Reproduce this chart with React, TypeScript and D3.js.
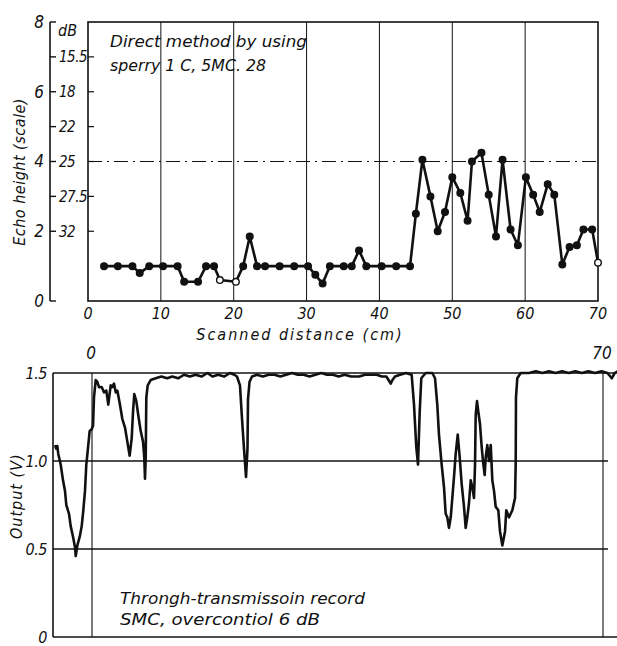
import React from 'react';
import * as d3 from 'd3';

// ---------- Top chart data (Direct method) ----------
const distanceCm = [2.2, 4.1, 6.1, 7.1, 8.4, 10.3, 12.3, 13.2, 15.1, 16.2, 17.3, 18.1, 20.3, 21.3, 22.2, 23.2, 24.3, 26.3, 28.3, 30.2, 31.2, 32.2, 33.2, 35.1, 36.2, 37.2, 38.2, 40.3, 42.3, 44.2, 45.0, 45.9, 47.0, 48.0, 49.0, 50.0, 51.1, 52.1, 52.7, 54.0, 55.0, 56.0, 56.9, 58.0, 59.0, 60.1, 61.1, 62.0, 63.1, 64.0, 65.1, 66.1, 67.1, 68.0, 69.2, 70.0];
const echoHeight = [1.0, 1.0, 1.0, 0.8, 1.0, 1.0, 1.0, 0.55, 0.55, 1.0, 1.0, 0.6, 0.55, 1.0, 1.85, 1.0, 1.0, 1.0, 1.0, 1.0, 0.75, 0.5, 1.0, 1.0, 1.0, 1.45, 1.0, 1.0, 1.0, 1.0, 2.5, 4.05, 3.0, 2.0, 2.55, 3.55, 3.1, 2.3, 4.0, 4.25, 3.05, 1.85, 4.05, 2.05, 1.6, 3.55, 3.05, 2.55, 3.35, 3.05, 1.05, 1.55, 1.6, 2.05, 2.05, 1.1];
const openMarkerAt = [18.1, 20.3, 70.0];
const echoTickValues = [0, 2, 4, 6, 8];
const dbTickPositions = [7, 6, 5, 4, 3, 2];
const dbTickLabels = ['15.5', '18', '22', '25', '27.5', '32'];
const distanceTicks = [0, 10, 20, 30, 40, 50, 60, 70];
const gridDistances = [10, 20, 30, 40, 50, 60];
const referenceLevel = 4;

// ---------- Bottom chart data (Through-transmission record) ----------
const traceCm = [-5.07, -4.89, -4.75, -4.62, -4.29, -3.97, -3.70, -3.52, -3.15, -2.92, -2.60, -2.33, -2.23, -2.01, -1.68, -1.41, -1.19, -0.96, -0.78, -0.51, -0.32, -0.04, 0.14, 0.27, 0.51, 0.73, 0.96, 1.33, 1.64, 1.96, 2.23, 2.56, 2.78, 3.01, 3.25, 3.47, 3.79, 4.15, 4.52, 4.84, 5.16, 5.44, 5.62, 5.79, 6.07, 6.34, 6.67, 6.99, 7.16, 7.26, 7.36, 7.44, 7.63, 8.04, 8.73,
  9.5, 10.3, 11.0, 11.8, 12.6, 13.4, 14.2, 15.0, 15.8, 16.5, 17.3, 18.1, 18.9, 19.5,
  19.86, 20.27, 20.55, 20.82, 21.10, 21.30, 21.37, 21.58, 21.92,
  22.6, 23.4, 24.2, 25.0, 25.8, 26.6, 27.4, 28.2, 29.0, 29.8, 30.6, 31.4, 32.2, 33.0, 33.8, 34.6, 35.5, 36.6,
  37.4, 38.2, 39.0, 39.7,
  40.32, 40.62, 40.92, 41.16, 41.51,
  42.2, 43.0,
  43.79, 44.11, 44.42, 44.66, 44.89, 45.11, 45.71, 46.62, 46.99, 47.30, 47.53, 47.90, 48.22, 48.45, 48.67, 48.90, 49.14, 49.36, 49.59, 49.82, 50.10, 50.37, 50.64, 50.96, 51.19, 51.41, 51.64, 51.88, 52.10, 52.33, 52.47, 52.56, 52.74, 52.92, 53.15, 53.38, 53.56, 53.79, 53.93, 54.15, 54.38, 54.62, 54.84, 55.07, 55.30, 55.66, 55.89, 56.21, 56.58, 56.75, 57.12, 57.58, 57.95, 58.04, 58.08, 58.26, 58.73, 59.86,
  60.8, 61.7, 62.6, 63.5, 64.4, 65.3, 66.2, 67.1, 68.0, 68.9, 69.8, 70.6, 71.2, 71.6, 72.0];
const traceV = [1.09, 1.07, 1.085, 1.04, 0.98, 0.89, 0.83, 0.75, 0.70, 0.63, 0.57, 0.51, 0.46, 0.52, 0.57, 0.63, 0.72, 0.83, 0.98, 1.09, 1.17, 1.18, 1.20, 1.36, 1.46, 1.45, 1.42, 1.42, 1.39, 1.40, 1.32, 1.43, 1.42, 1.44, 1.39, 1.40, 1.33, 1.24, 1.19, 1.11, 1.03, 1.13, 1.28, 1.38, 1.34, 1.26, 1.17, 1.11, 1.02, 0.90, 1.02, 1.36, 1.43, 1.46, 1.47,
  1.48, 1.47, 1.48, 1.47, 1.49, 1.48, 1.49, 1.48, 1.50, 1.48, 1.49, 1.48, 1.50, 1.49,
  1.48, 1.43, 1.24, 1.07, 0.91, 1.07, 1.35, 1.45, 1.48,
  1.49, 1.48, 1.49, 1.49, 1.48, 1.49, 1.50, 1.49, 1.49, 1.48, 1.49, 1.50, 1.49, 1.49, 1.48, 1.49, 1.48, 1.48,
  1.49, 1.49, 1.49, 1.48,
  1.48, 1.46, 1.44, 1.46, 1.48,
  1.49, 1.50,
  1.49, 1.32, 1.08, 0.98, 1.28, 1.47, 1.50, 1.50, 1.47, 1.32, 1.15, 0.98, 0.85, 0.70, 0.68, 0.62, 0.68, 0.79, 0.91, 1.04, 1.15, 1.02, 0.87, 0.74, 0.62, 0.68, 0.76, 0.89, 0.85, 0.79, 0.98, 1.26, 1.34, 1.28, 1.21, 1.08, 1.00, 0.92, 1.02, 1.09, 1.00, 1.09, 0.89, 0.83, 0.74, 0.72, 0.60, 0.52, 0.60, 0.72, 0.68, 0.72, 0.79, 0.98, 1.36, 1.47, 1.50, 1.50,
  1.51, 1.50, 1.51, 1.50, 1.51, 1.50, 1.51, 1.50, 1.51, 1.50, 1.51, 1.50, 1.47, 1.50, 1.51];
const outputTicks = [0, 0.5, 1.0, 1.5];
const outputTickLabels = ['0', '0.5', '1.0', '1.5'];
const outputGrid = [0.5, 1.0];
const traceMarks = [0, 70];

const FONT = "'DejaVu Sans Condensed', 'DejaVu Sans', sans-serif";
const INK = '#111';

export default function App() {
  // top chart scales
  const x1 = d3.scaleLinear().domain([0, 70]).range([88, 598]);
  const y1 = d3.scaleLinear().domain([0, 8]).range([301, 22]);
  const axisX = 50;

  const pts = distanceCm.map((d, i) => [d, echoHeight[i]] as [number, number]);
  const line1 = d3.line<[number, number]>().x(d => x1(d[0])).y(d => y1(d[1]))(pts) || '';

  // bottom chart scales
  const x2 = d3.scaleLinear().domain([0, 70]).range([92, 603]);
  const y2 = d3.scaleLinear().domain([0, 1.5]).range([637, 373]);
  const n = Math.min(traceCm.length, traceV.length);
  const tr: [number, number][] = [];
  for (let i = 0; i < n; i++) tr.push([traceCm[i], traceV[i]]);
  const line2 = d3.line<[number, number]>().x(d => x2(d[0])).y(d => y2(d[1])).curve(d3.curveLinear)(tr) || '';
  const leftB = 53, rightB = 617;

  const it = { fontFamily: FONT, fontStyle: 'italic' as const, fill: INK };

  return (
    <svg width={617} height={646} style={{ position: 'absolute', left: 0, top: 0, background: '#fff' }}>
      <rect x={0} y={0} width={617} height={646} fill="#fff" />
      {/* ===== TOP CHART ===== */}
      {gridDistances.map(g => (
        <line key={'g' + g} x1={x1(g)} x2={x1(g)} y1={y1(8)} y2={y1(0)} stroke={INK} strokeWidth={1} />
      ))}
      <rect x={x1(0)} y={y1(8)} width={x1(70) - x1(0)} height={y1(0) - y1(8)} fill="none" stroke={INK} strokeWidth={1.6} />
      <line x1={x1(0)} x2={x1(70)} y1={y1(referenceLevel)} y2={y1(referenceLevel)} stroke={INK} strokeWidth={1} strokeDasharray="14,5,2,5" />
      {/* left axis */}
      <line x1={axisX} x2={axisX} y1={y1(8)} y2={y1(0)} stroke={INK} strokeWidth={1.6} />
      {[0, 8, ...dbTickPositions].map(v => (
        <line key={'lt' + v} x1={axisX} x2={axisX + 6} y1={y1(v)} y2={y1(v)} stroke={INK} strokeWidth={1.4} />
      ))}
      {dbTickPositions.map(v => (
        <line key={'ft' + v} x1={x1(0)} x2={x1(0) + 6} y1={y1(v)} y2={y1(v)} stroke={INK} strokeWidth={1.2} />
      ))}
      {echoTickValues.map(v => (
        <text key={'el' + v} x={axisX - 6} y={y1(v)} dy="0.35em" textAnchor="end" fontSize={17} {...it}>{v}</text>
      ))}
      <text x={axisX + 8} y={y1(7.75)} dy="0.35em" fontSize={16} {...it}>dB</text>
      {dbTickPositions.map((v, i) => (
        <text key={'db' + v} x={axisX + 9} y={y1(v)} dy="0.35em" fontSize={15} {...it} letterSpacing={-0.5}>{dbTickLabels[i]}</text>
      ))}
      {distanceTicks.map(t => (
        <text key={'xt' + t} x={x1(t)} y={y1(0) + 12} dy="0.35em" textAnchor="middle" fontSize={16} {...it}>{t}</text>
      ))}
      <text x={300} y={340} textAnchor="middle" fontSize={16} letterSpacing={2} {...it}>Scanned distance (cm)</text>
      <text transform={`translate(25,${y1(3.7)}) rotate(-90)`} textAnchor="middle" fontSize={16} letterSpacing={0.5} {...it}>Echo height (scale)</text>
      <text x={110} y={47} fontSize={15} {...it} textLength={197} lengthAdjust="spacingAndGlyphs">Direct method by using</text>
      <text x={110} y={71} fontSize={15} {...it} textLength={156} lengthAdjust="spacingAndGlyphs">sperry 1 C, 5MC. 28</text>
      <path d={line1} fill="none" stroke={INK} strokeWidth={2.6} strokeLinejoin="round" />
      {pts.map((p, i) => (
        <circle key={'m' + i} cx={x1(p[0])} cy={y1(p[1])} r={3.3}
          fill={openMarkerAt.includes(p[0]) ? '#fff' : INK} stroke={INK} strokeWidth={1.4} />
      ))}

      {/* ===== BOTTOM CHART ===== */}
      <line x1={leftB} x2={rightB} y1={y2(1.5)} y2={y2(1.5)} stroke={INK} strokeWidth={1.6} />
      <line x1={leftB} x2={rightB} y1={y2(0)} y2={y2(0)} stroke={INK} strokeWidth={1.6} />
      <line x1={leftB} x2={leftB} y1={y2(1.5)} y2={y2(0)} stroke={INK} strokeWidth={1.6} />
      {outputGrid.map(v => (
        <line key={'og' + v} x1={leftB} x2={608} y1={y2(v)} y2={y2(v)} stroke={INK} strokeWidth={1.3} />
      ))}
      {traceMarks.map(m => (
        <line key={'tm' + m} x1={x2(m)} x2={x2(m)} y1={y2(1.5)} y2={y2(0)} stroke={INK} strokeWidth={1.1} />
      ))}
      {traceMarks.map(m => (
        <text key={'tml' + m} x={x2(m) - 1} y={y2(1.5) - 14} textAnchor="middle" fontSize={17} {...it}>{m}</text>
      ))}
      {outputTicks.map((v, i) => (
        <text key={'ot' + v} x={leftB - 6} y={y2(v)} dy="0.35em" textAnchor="end" fontSize={16} letterSpacing={-0.5} {...it}>{outputTickLabels[i]}</text>
      ))}
      <text transform={`translate(22,${y2(0.8)}) rotate(-90)`} textAnchor="middle" fontSize={16} letterSpacing={1} {...it}>Output (V)</text>
      <text x={120} y={604} fontSize={15} {...it} textLength={245} lengthAdjust="spacingAndGlyphs">Throngh-transmissoin record</text>
      <text x={120} y={625} fontSize={15} {...it} textLength={200} lengthAdjust="spacingAndGlyphs">SMC, overcontiol 6 dB</text>
      <path d={line2} fill="none" stroke={INK} strokeWidth={2.6} strokeLinejoin="round" />
    </svg>
  );
}
